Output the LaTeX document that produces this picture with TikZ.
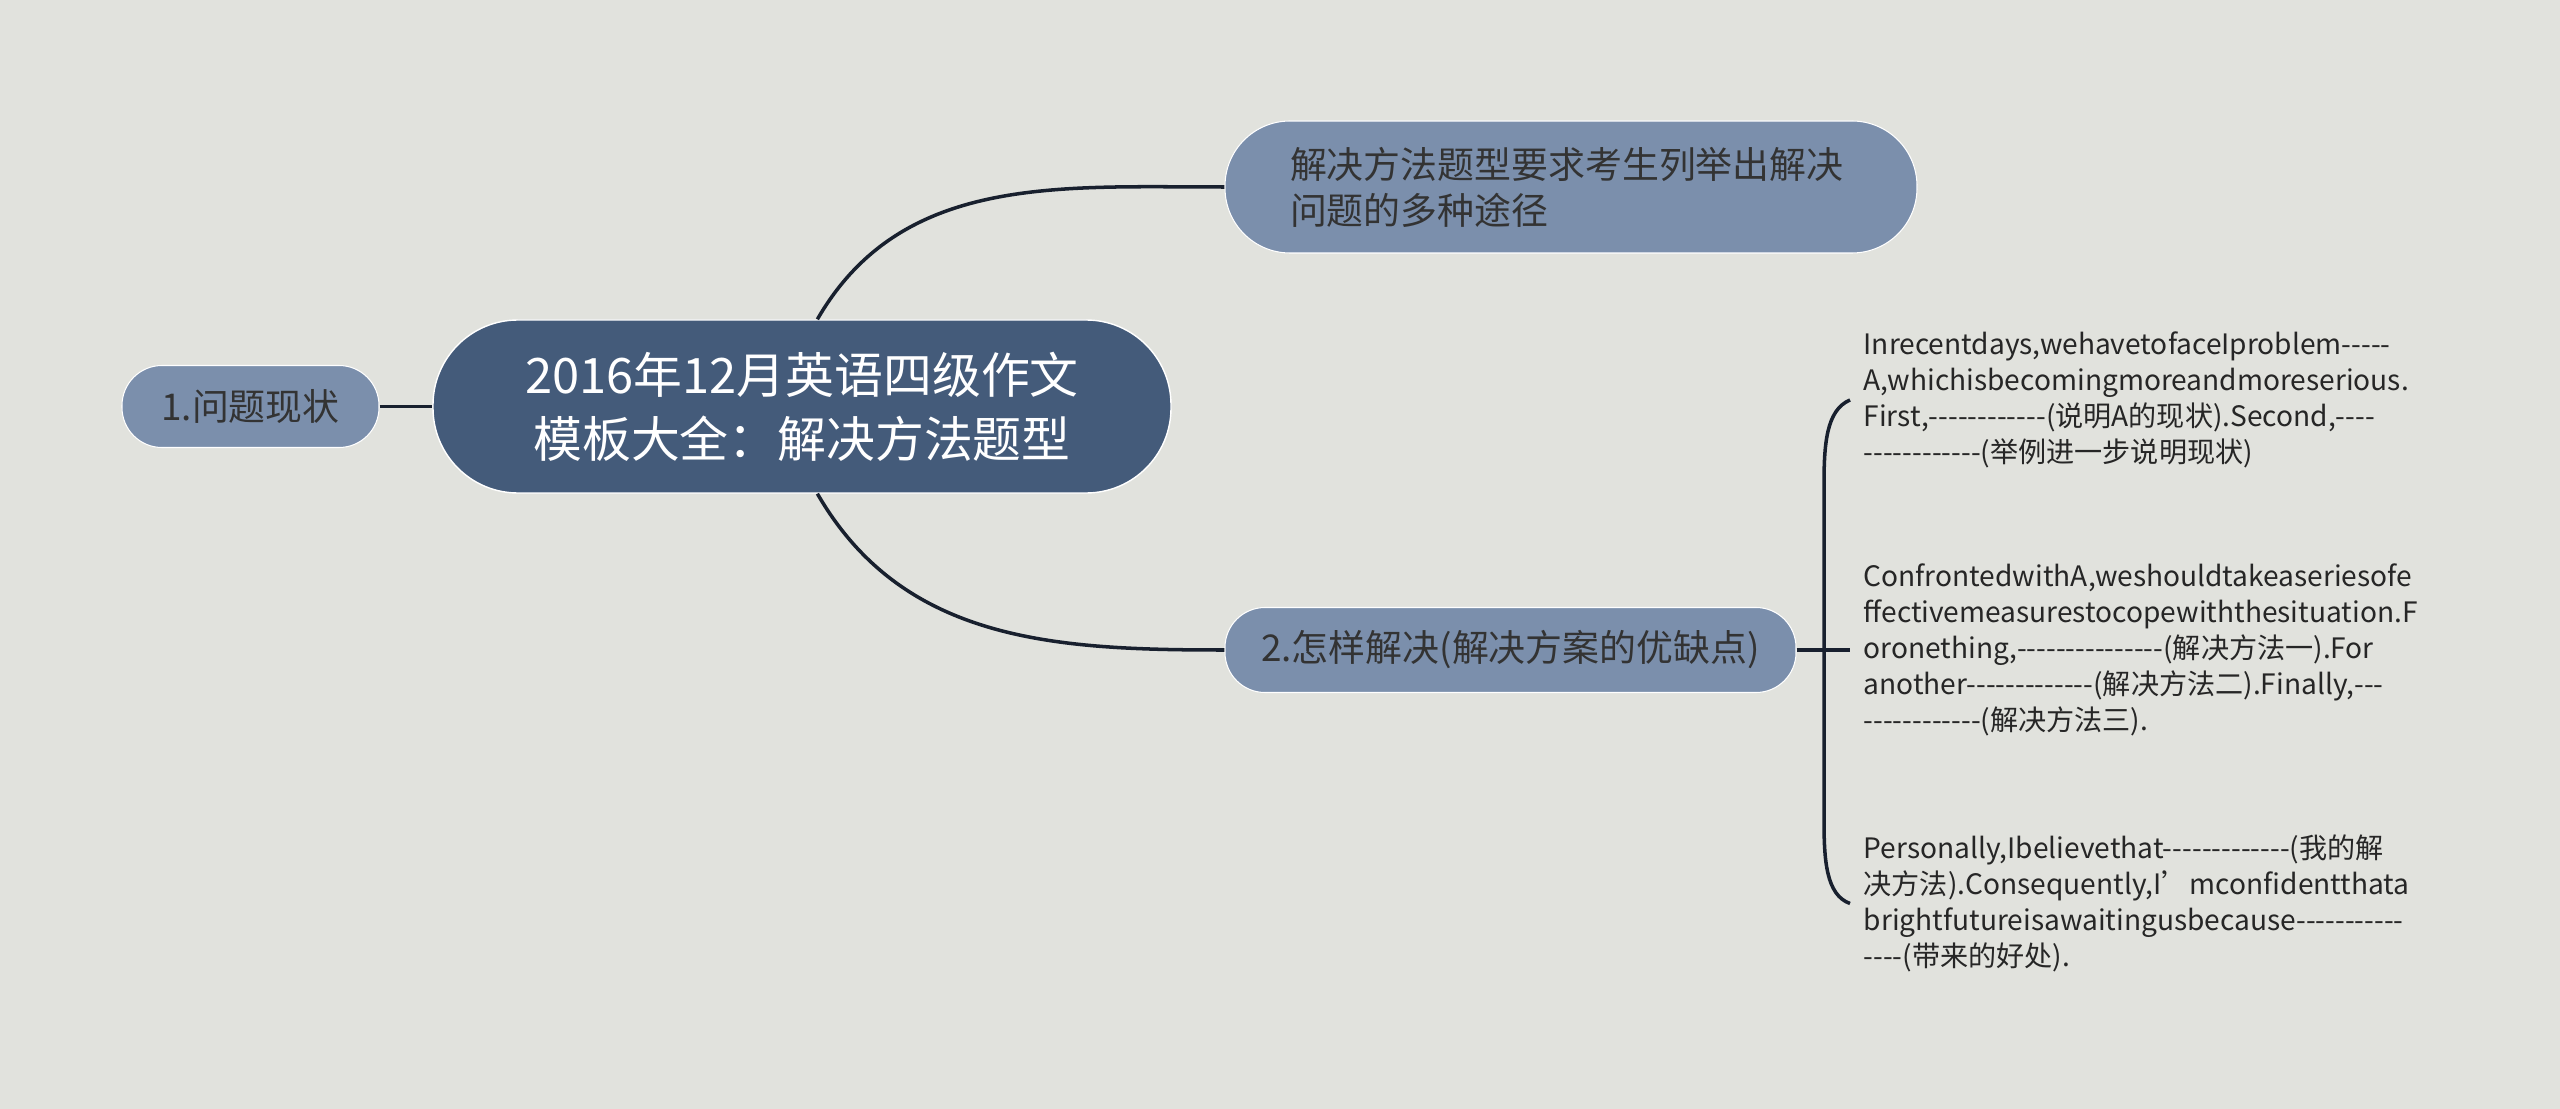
\documentclass[tikz,border=0pt]{standalone}
\usepackage{fontspec}
\setmainfont{Noto Sans CJK SC}[Ligatures=TeXOff]
\usepackage{tikz}
\definecolor{bgcol}{HTML}{E1E2DD}
\definecolor{rootcol}{HTML}{445B7A}
\definecolor{subcol}{HTML}{7B8FAC}
\definecolor{linecol}{HTML}{18202E}

\begin{document}
\begin{tikzpicture}[
  root/.style={fill=rootcol, draw=white, line width=0.4pt, text=white, rounded corners=8.5mm, minimum width=7.38cm, minimum height=1.73cm, align=center, font=\fontsize{13.9}{18.2}\selectfont},
  sub/.style={fill=subcol, draw=white, line width=0.3pt, text=black!80, rounded corners=4mm, minimum height=0.82cm, font=\fontsize{10.5}{13.1}\selectfont},
  detail/.style={anchor=west, align=left, inner sep=0pt, text=black!85, font=\fontsize{8}{10.24}\selectfont},
  link/.style={draw=linecol, line width=1pt}]

  \useasboundingbox[fill=bgcol] (0,0) rectangle (25.6,-11.09);

  % Centre and first level
  \node[root] at (8.02,-4.065) (root) {2016年12月英语四级作文\\模板大全：解决方法题型};
  \node[sub, minimum width=2.57cm] at (2.505,-4.065) (issue) {1.问题现状};
  \node[sub, minimum width=6.92cm, minimum height=1.32cm, rounded corners=6.5mm, text width=5.62cm, inner xsep=0.65cm, align=left] at (15.71,-1.87) (aim) {解决方法题型要求考生列举出解决\\问题的多种途径};
  \node[sub, minimum width=5.71cm, minimum height=0.85cm] at (15.105,-6.5) (solve) {2.怎样解决(解决方案的优缺点)};

  % Second level
  \node[detail] at (18.63,-4.0) (problem) {Inrecentdays,wehavetofaceIproblem-----\\A,whichisbecomingmoreandmoreserious.\\First,------------(说明A的现状).Second,----\\------------(举例进一步说明现状)};
  \node[detail] at (18.63,-6.5) (measure) {ConfrontedwithA,weshouldtakeaseriesofe\\ffectivemeasurestocopewiththesituation.F\\oronething,---------------(解决方法一).For\\another-------------(解决方法二).Finally,---\\------------(解决方法三).};
  \node[detail] at (18.63,-9.035) (benefit) {Personally,Ibelievethat-------------(我的解\\决方法).Consequently,I’mconfidentthata\\brightfutureisawaitingusbecause-----------\\----(带来的好处).};

  % Links
  \draw[link] (issue.east) -- (root.west);
  \draw[link] (root.80) to[out=60, in=180] (aim.west);
  \draw[link] (root.-80) to[out=-60, in=180] (solve.west);

  % Bracket
  \draw[link] (solve.east) -- ([xshift=-1.3mm]measure.west);
  \draw[link] ([xshift=-1.3mm]problem.west) .. controls (18.26,-4.1) and (18.24,-4.45) .. (18.24,-4.85) -- (18.24,-8.2) .. controls (18.24,-8.6) and (18.26,-8.95) .. ([xshift=-1.3mm]benefit.west);

\end{tikzpicture}
\end{document}
